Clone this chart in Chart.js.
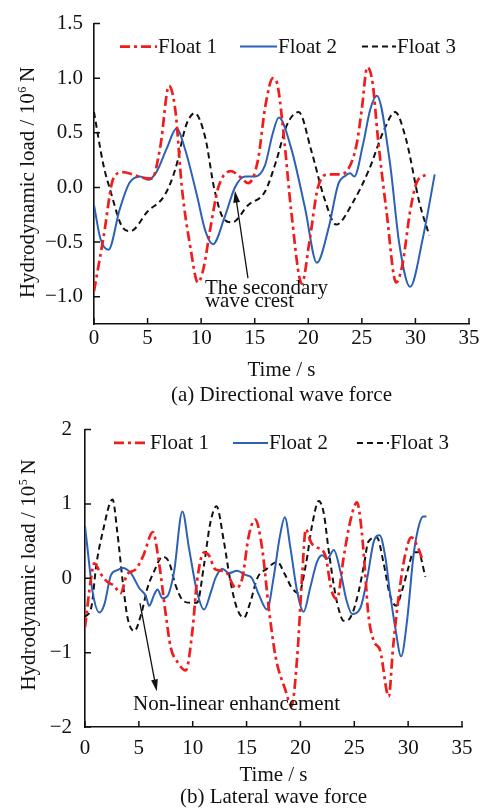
<!DOCTYPE html>
<html>
<head>
<meta charset="utf-8">
<script src="https://cdn.jsdelivr.net/npm/chart.js@4.4.0/dist/chart.umd.min.js"></script>
<style>
  html, body { margin: 0; padding: 0; background: #fff; }
  #wrap { position: relative; width: 483px; height: 809px; overflow: hidden; }
  canvas { position: absolute; left: 0; }
</style>
</head>
<body>
<div id="wrap">
  <canvas id="dirChart" width="483" height="412" style="top:0"></canvas>
  <canvas id="latChart" width="483" height="405" style="top:404px"></canvas>
</div>
<script>
// ---- shared axis ticks ----
const timeTicks = [0, 5, 10, 15, 20, 25, 30, 35];
const dirTicks = [-1.0, -0.5, 0.0, 0.5, 1.0, 1.5];
const latTicks = [-2, -1, 0, 1, 2];
const seriesNames = ['Float 1', 'Float 2', 'Float 3'];

// ---- (a) directional wave force, 10^6 N ----
const dirTime1 = [0, 0.9, 1.8, 2.7, 3.6, 4.5, 5.4, 6.2, 7.0, 7.6, 8.2, 9.0, 9.7, 10.2, 10.9, 11.6, 12.8, 13.6, 14.4, 15.3, 16.0, 16.7, 17.1, 17.8, 18.4, 19.4, 20.1, 20.9, 21.9, 22.9, 23.6, 24.5, 25.0, 25.5, 26.0, 26.5, 27.3, 28.2, 28.8, 29.5, 30.1, 31.0];
const dirLoad1 = [-0.95, -0.45, 0.08, 0.14, 0.12, 0.09, 0.08, 0.38, 0.93, 0.7, 0.0, -0.55, -0.87, -0.75, -0.35, 0.0, 0.15, 0.1, 0.04, 0.25, 0.75, 1.0, 0.95, 0.39, -0.21, -0.88, -0.5, 0.0, 0.12, 0.12, 0.15, 0.39, 0.72, 1.1, 0.96, 0.45, -0.22, -0.87, -0.7, -0.22, 0.04, 0.12];
const dirTime2 = [0, 0.6, 1.35, 2.4, 3.3, 4.3, 5.05, 5.85, 6.8, 7.7, 8.5, 9.6, 10.4, 11.1, 12.2, 13.15, 14.1, 15.0, 15.95, 16.7, 17.25, 18.4, 19.7, 20.8, 21.9, 22.8, 23.5, 23.9, 24.3, 25.1, 25.8, 26.4, 27.6, 28.5, 29.5, 30.7, 31.8];
const dirLoad2 = [-0.16, -0.47, -0.57, -0.2, 0.04, 0.1, 0.07, 0.145, 0.36, 0.54, 0.35, -0.07, -0.4, -0.52, -0.27, 0.0, 0.1, 0.1, 0.2, 0.5, 0.64, 0.36, -0.19, -0.69, -0.37, 0.03, 0.11, 0.13, 0.1, 0.39, 0.72, 0.84, 0.24, -0.52, -0.91, -0.46, 0.12];
const dirTime3 = [0, 0.87, 1.5, 2.7, 3.4, 5.0, 6.6, 7.6, 8.6, 9.4, 10.4, 11.2, 12.0, 12.9, 14.4, 15.95, 17.0, 18.0, 19.1, 20.3, 21.5, 22.6, 24.2, 25.7, 27.0, 28.1, 29.1, 30.4, 31.3];
const dirLoad3 = [0.69, 0.21, -0.02, -0.37, -0.4, -0.22, -0.07, 0.17, 0.57, 0.68, 0.45, 0.0, -0.27, -0.32, -0.16, -0.04, 0.24, 0.57, 0.69, 0.33, -0.1, -0.34, -0.13, 0.17, 0.51, 0.69, 0.45, -0.15, -0.44];

// ---- (b) lateral wave force, 10^5 N ----
const latTime1 = [0, 0.56, 0.86, 1.5, 2.1, 2.7, 3.3, 3.9, 4.7, 5.4, 6.3, 6.9, 7.5, 7.96, 8.6, 9.35, 9.97, 10.4, 11.05, 11.5, 12.1, 13.05, 14.0, 14.6, 15.2, 15.8, 16.45, 17.06, 17.7, 18.6, 19.17, 19.7, 20.16, 20.5, 21.0, 21.5, 22.3, 22.9, 23.4, 24.0, 24.6, 25.25, 25.7, 26.0, 26.3, 26.8, 27.4, 28.2, 28.6, 29.1, 29.7, 30.3, 30.95, 31.3];
const latLoad1 = [-0.66, 0.0, 0.2, 0.05, -0.05, -0.1, -0.2, 0.05, 0.12, 0.3, 0.62, 0.18, -0.49, -0.93, -1.13, -1.24, -0.71, -0.04, 0.35, 0.31, 0.12, 0.09, -0.13, 0.0, 0.57, 0.79, 0.4, -0.4, -1.06, -1.5, -1.72, -1.06, 0.04, 0.66, 0.48, 0.42, 0.31, -0.17, -0.28, 0.27, 0.75, 1.02, 0.62, 0.09, -0.48, -0.84, -0.97, -1.59, -0.93, -0.27, 0.3, 0.55, 0.4, 0.26];
const latTime2 = [0, 0.4, 0.7, 1.33, 1.8, 2.4, 3.0, 3.5, 4.26, 5.03, 5.65, 5.96, 6.42, 6.73, 7.19, 7.65, 8.27, 9.04, 9.66, 10.4, 11.05, 11.7, 12.1, 12.75, 13.36, 14.1, 14.9, 15.5, 16.14, 16.9, 17.5, 18.1, 18.55, 19.08, 19.7, 20.3, 20.9, 21.54, 22.0, 22.5, 23.1, 23.7, 24.3, 24.8, 25.56, 26.2, 26.8, 27.35, 27.9, 28.3, 28.8, 29.35, 29.9, 30.5, 31.0, 31.4, 31.7];
const latLoad2 = [0.71, 0.18, -0.18, -0.46, -0.35, 0.04, 0.11, 0.14, 0.07, -0.13, -0.24, -0.37, -0.22, -0.15, -0.27, -0.24, 0.09, 0.9, 0.4, -0.18, -0.42, -0.18, 0.0, 0.13, 0.07, 0.1, 0.045, 0.0, -0.22, -0.42, 0.0, 0.57, 0.82, 0.4, -0.18, -0.45, -0.13, 0.22, 0.31, 0.265, 0.38, 0.1, -0.31, -0.48, -0.4, 0.0, 0.49, 0.58, 0.27, -0.18, -0.66, -1.05, -0.57, 0.31, 0.71, 0.83, 0.83];
const latTime3 = [0, 0.6, 1.05, 1.64, 2.56, 3.0, 3.5, 3.95, 4.57, 5.2, 5.8, 6.4, 7.2, 7.8, 8.4, 9.04, 9.8, 10.4, 11.05, 11.6, 12.2, 12.9, 13.5, 14.1, 14.75, 15.37, 15.99, 16.9, 17.84, 18.6, 19.2, 19.85, 20.5, 21.08, 21.7, 22.16, 22.6, 23.2, 23.6, 24.0, 24.3, 24.8, 25.4, 25.9, 26.3, 27.1, 27.7, 28.3, 28.9, 29.4, 30.0, 30.5, 30.95, 31.6];
const latLoad3 = [-0.52, -0.38, 0.18, 0.62, 1.06, 0.62, -0.04, -0.53, -0.71, -0.49, -0.13, 0.09, 0.29, 0.22, -0.09, -0.29, -0.33, -0.33, 0.18, 0.72, 0.97, 0.49, -0.04, -0.4, -0.53, -0.31, 0.0, 0.13, 0.22, 0.04, -0.13, -0.2, 0.18, 0.71, 1.04, 0.88, 0.4, -0.18, -0.44, -0.57, -0.57, -0.48, -0.18, 0.18, 0.49, 0.55, 0.22, -0.22, -0.37, -0.18, 0.13, 0.35, 0.35, 0.02];

// ---- styling ----
const SERIF = '"Liberation Serif", "Times New Roman", Times, serif';
const INK = '#111111';
const lineStyles = [
  { color: '#f01d1d', width: 2.7, dash: [10, 4, 3, 4] },
  { color: '#2d61b5', width: 2.0, dash: [] },
  { color: '#111111', width: 2.0, dash: [6, 4] }
];

function makeSeries(times, loads, k) {
  const s = lineStyles[k];
  return {
    label: seriesNames[k],
    data: times.map((t, i) => ({ x: t, y: loads[i] })),
    borderColor: s.color,
    borderWidth: s.width,
    borderDash: s.dash,
    borderJoinStyle: 'round',
    pointRadius: 0,
    pointHoverRadius: 0,
    cubicInterpolationMode: 'monotone',
    fill: false
  };
}

function signed(v, digits) {
  const txt = Math.abs(v).toFixed(digits);
  return v < 0 ? '\u2212' + txt : txt;
}

function drawArrow(ctx, x1, y1, x2, y2) {
  const ang = Math.atan2(y2 - y1, x2 - x1);
  const head = 12, half = 3.4;
  ctx.beginPath();
  ctx.moveTo(x1, y1);
  ctx.lineTo(x2 - Math.cos(ang) * head * 0.8, y2 - Math.sin(ang) * head * 0.8);
  ctx.stroke();
  ctx.beginPath();
  ctx.moveTo(x2, y2);
  ctx.lineTo(x2 - Math.cos(ang) * head + Math.sin(ang) * half, y2 - Math.sin(ang) * head - Math.cos(ang) * half);
  ctx.lineTo(x2 - Math.cos(ang) * head - Math.sin(ang) * half, y2 - Math.sin(ang) * head + Math.cos(ang) * half);
  ctx.closePath();
  ctx.fill();
}

// Inward tick marks, legend, axis titles, caption and call-outs.
const decor = {
  id: 'decor',
  afterDraw(chart, args, o) {
    const ctx = chart.ctx, xs = chart.scales.x, ys = chart.scales.y, a = chart.chartArea;
    ctx.save();
    ctx.strokeStyle = INK;
    ctx.fillStyle = INK;
    ctx.lineWidth = 1.5;
    ctx.beginPath();
    ys.ticks.forEach(t => {
      const py = ys.getPixelForValue(t.value);
      ctx.moveTo(a.left, py); ctx.lineTo(a.left + 6, py);
    });
    xs.ticks.forEach(t => {
      const px = xs.getPixelForValue(t.value);
      ctx.moveTo(px, a.bottom); ctx.lineTo(px, a.bottom - 6);
    });
    ctx.stroke();

    // legend
    ctx.font = '21px ' + SERIF;
    ctx.textBaseline = 'alphabetic';
    ctx.textAlign = 'left';
    const ly = a.top + o.legendDy;
    chart.data.datasets.forEach((ds, i) => {
      const it = o.legend[i];
      ctx.save();
      ctx.strokeStyle = ds.borderColor;
      ctx.lineWidth = ds.borderWidth;
      ctx.setLineDash(ds.borderDash || []);
      ctx.beginPath();
      ctx.moveTo(a.left + it.x, ly);
      ctx.lineTo(a.left + it.x + it.len, ly);
      ctx.stroke();
      ctx.restore();
      ctx.fillText(ds.label, a.left + it.x + it.len + 1, ly + 6.5);
    });

    // x title and caption
    ctx.textAlign = 'center';
    const cx = (a.left + a.right) / 2;
    ctx.fillText('Time / s', cx, a.bottom + o.xTitleDy);
    ctx.fillText(o.caption, cx, a.bottom + o.captionDy);

    // rotated y title with a superscript exponent
    ctx.save();
    ctx.translate(o.yTitleX, o.yTitleY);
    ctx.rotate(-Math.PI / 2);
    ctx.textAlign = 'left';
    const p1 = 'Hydrodynamic load / 10', p3 = ' N';
    ctx.font = '21px ' + SERIF;
    const w1 = ctx.measureText(p1).width, w3 = ctx.measureText(p3).width;
    ctx.font = '12px ' + SERIF;
    const w2 = ctx.measureText(o.exponent).width;
    let x0 = -(w1 + w2 + w3) / 2;
    ctx.font = '21px ' + SERIF;
    ctx.fillText(p1, x0, 0);
    ctx.font = '12px ' + SERIF;
    ctx.fillText(o.exponent, x0 + w1 + 0.5, -8);
    ctx.font = '21px ' + SERIF;
    ctx.fillText(p3, x0 + w1 + w2, 0);
    ctx.restore();

    // call-out text and arrow, anchored in data space
    const n = o.note;
    ctx.textAlign = 'left';
    ctx.font = '21px ' + SERIF;
    n.lines.forEach((line, i) => {
      ctx.fillText(line, xs.getPixelForValue(n.textX), ys.getPixelForValue(n.textY) + i * n.lineGap);
    });
    ctx.lineWidth = 1.3;
    drawArrow(ctx,
      xs.getPixelForValue(n.from[0]), ys.getPixelForValue(n.from[1]),
      xs.getPixelForValue(n.to[0]), ys.getPixelForValue(n.to[1]));
    ctx.restore();
  }
};

function axisX(height, pad) {
  return {
    type: 'linear', min: 0, max: 35,
    afterBuildTicks: s => { s.ticks = timeTicks.map(v => ({ value: v })); },
    afterFit: s => { s.height = height; },
    grid: { display: false, drawTicks: false },
    border: { display: true, color: INK, width: 1.6 },
    ticks: { padding: pad, color: INK, font: { family: SERIF, size: 21 }, maxRotation: 0, autoSkip: false,
             callback: v => String(v) }
  };
}

function axisY(min, max, tickVals, width, pad, digits) {
  return {
    type: 'linear', min: min, max: max,
    afterBuildTicks: s => { s.ticks = tickVals.map(v => ({ value: v })); },
    afterFit: s => { s.width = width; },
    grid: { display: false, drawTicks: false },
    border: { display: true, color: INK, width: 1.6 },
    ticks: { padding: pad, color: INK, font: { family: SERIF, size: 21 }, autoSkip: false,
             callback: v => signed(v, digits) }
  };
}

Chart.defaults.font.family = SERIF;

new Chart(document.getElementById('dirChart'), {
  type: 'line',
  data: { datasets: [
    makeSeries(dirTime1, dirLoad1, 0),
    makeSeries(dirTime2, dirLoad2, 1),
    makeSeries(dirTime3, dirLoad3, 2)
  ] },
  options: {
    responsive: false, animation: false, devicePixelRatio: 1,
    layout: { padding: { top: 21, right: 14, left: 0, bottom: 0 } },
    scales: { x: axisX(88, 2), y: axisY(-1.25, 1.5, dirTicks, 94, 11, 1) },
    plugins: {
      legend: { display: false }, tooltip: { enabled: false },
      decor: {
        legendDy: 23,
        legend: [{ x: 26, len: 37 }, { x: 146, len: 37 }, { x: 268, len: 34 }],
        xTitleDy: 51.7, captionDy: 76.5, caption: '(a) Directional wave force',
        yTitleX: 33.5, yTitleY: 182.5, exponent: '6',
        note: { lines: ['The secondary', 'wave crest'], textX: 10.35, textY: -0.975, lineGap: 13.4,
                from: [14.37, -0.83], to: [13.15, -0.03] }
      }
    }
  },
  plugins: [decor]
});

new Chart(document.getElementById('latChart'), {
  type: 'line',
  data: { datasets: [
    makeSeries(latTime1, latLoad1, 0),
    makeSeries(latTime2, latLoad2, 1),
    makeSeries(latTime3, latLoad3, 2)
  ] },
  options: {
    responsive: false, animation: false, devicePixelRatio: 1,
    layout: { padding: { top: 22, right: 21, left: 0, bottom: 0 } },
    scales: { x: axisX(82, 9), y: axisY(-2, 2, latTicks, 85, 13, 0) },
    plugins: {
      legend: { display: false }, tooltip: { enabled: false },
      decor: {
        legendDy: 13.3,
        legend: [{ x: 29, len: 35 }, { x: 148, len: 35 }, { x: 272, len: 32 }],
        xTitleDy: 53.7, captionDy: 76.3, caption: '(b) Lateral wave force',
        yTitleX: 35, yTitleY: 171, exponent: '5',
        note: { lines: ['Non-linear enhancement'], textX: 4.46, textY: -1.765, lineGap: 0,
                from: [5.1, -0.335], to: [6.66, -1.52] }
      }
    }
  },
  plugins: [decor]
});
</script>
</body>
</html>
